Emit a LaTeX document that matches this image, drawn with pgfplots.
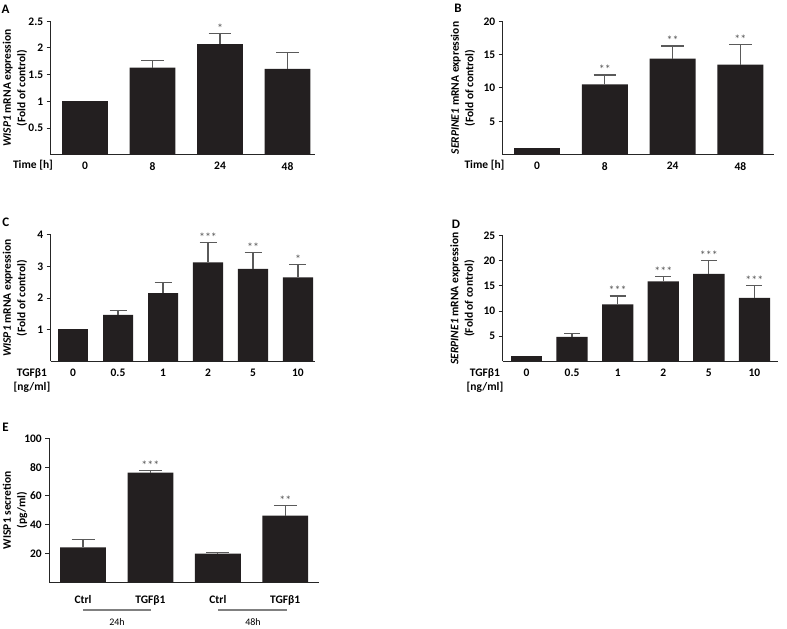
\documentclass[border=0pt]{standalone}
\usepackage{fontspec}
\setmainfont{Carlito}
\usepackage{pgfplots}
\usepackage{pgfplotstable}
\pgfplotsset{compat=1.18}
\definecolor{barc}{HTML}{231F20}
\definecolor{errc}{HTML}{5A5A5A}
\definecolor{starc}{HTML}{555555}
\pgfplotsset{
  panel/.style={
    scale only axis, anchor=south west, clip=false,
    axis x line*=bottom, axis y line*=left,
    axis line style={line width=1.2pt, black!85, -},
    ymin=0,
    ytick align=outside, major tick length=4pt,
    ytick style={line width=1pt, black!85},
    xtick style={draw=none},
    /pgf/number format/assume math mode=true,
    ticklabel style={font=\bfseries\fontsize{11.5}{14}\selectfont},
    label style={font=\bfseries\fontsize{11.5}{14.5}\selectfont, align=center},
    ylabel style={anchor=center},
    ybar, bar shift=0pt,
  },
  bars/.style={fill=barc, draw=none, bar shift=0pt,
    error bars/.cd, y dir=plus, y explicit, error mark=|,
    error bar style={errc, line width=1.2pt},
    error mark options={errc, line width=1.2pt, mark size=#1}},
  plainbars/.style={fill=barc, draw=none, bar shift=0pt},
}
\newcommand{\stars}[3]{\node[anchor=base, text=starc, font=\fontsize{12}{14}\selectfont, inner sep=0pt, yshift=1pt] at (axis cs:#1,#2) {#3};}

\pgfplotstableread{
x y e
1 1.63 0.14
2 2.07 0.20
3 1.61 0.31
}\dataA
\pgfplotstableread{
x y e
1 10.56 1.39
2 14.40 1.90
3 13.50 3.05
}\dataB
\pgfplotstableread{
x y e
1 1.47 0.14
2 2.16 0.34
3 3.13 0.62
4 2.93 0.51
5 2.66 0.40
}\dataC
\pgfplotstableread{
x y e
1 4.84 0.73
2 11.35 1.65
3 15.90 0.90
4 17.40 2.70
5 12.60 2.45
}\dataD
\pgfplotstableread{
x y e
0 24.3 5.6
1 76.1 1.7
2 19.9 0.7
3 46.3 6.9
}\dataE

\begin{document}
\begin{tikzpicture}[x=1pt,y=1pt]
\path[use as bounding box] (0,0) rectangle (787,629);

% Panel A
\begin{axis}[panel, at={(50.7pt,474.3pt)}, width=264.3pt, height=133.4pt,
  xmin=-0.508, xmax=3.407, ymax=2.5, bar width=0.68,
  ytick={0.5,1,1.5,2,2.5}, xtick={0,1,2,3}, xticklabels={0,8,24,48},
  ylabel={\textit{WISP1} mRNA expression\\(Fold of control)},
  ylabel style={at={(axis description cs:-0.135,0.5)}}]
\addplot[plainbars] coordinates {(0,1.0)};
\addplot[bars=11.3pt] table[x=x,y=y,y error=e] {\dataA};
\stars{2}{2.27}{*}
\end{axis}

% Panel B
\begin{axis}[panel, at={(502.7pt,474.3pt)}, width=271.6pt, height=133.4pt,
  xmin=-0.506, xmax=3.5, ymax=20, bar width=0.679,
  ytick={5,10,15,20}, xtick={0,1,2,3}, xticklabels={0,8,24,48},
  ylabel={\textit{SERPINE1} mRNA expression\\(Fold of control)},
  ylabel style={at={(axis description cs:-0.146,0.5)}}]
\addplot[plainbars] coordinates {(0,1.05)};
\addplot[bars=11.3pt] table[x=x,y=y,y error=e] {\dataB};
\stars{1}{11.95}{**}
\stars{2}{16.30}{**}
\stars{3}{16.55}{**}
\end{axis}

% Panel C
\begin{axis}[panel, at={(50.7pt,267.7pt)}, width=264.3pt, height=126.3pt,
  xmin=-0.496, xmax=5.378, ymax=4, bar width=0.667,
  ytick={1,2,3,4}, xtick={0,1,2,3,4,5}, xticklabels={0,0.5,1,2,5,10},
  ylabel={\textit{WISP1} mRNA expression\\(Fold of control)},
  ylabel style={at={(axis description cs:-0.135,0.5)}}]
\addplot[plainbars] coordinates {(0,1.01)};
\addplot[bars=8.5pt] table[x=x,y=y,y error=e] {\dataC};
\stars{3}{3.75}{***}
\stars{4}{3.44}{**}
\stars{5}{3.06}{*}
\end{axis}

% Panel D
\begin{axis}[panel, at={(502.7pt,267.7pt)}, width=275pt, height=125.6pt,
  xmin=-0.522, xmax=5.51, ymax=25, bar width=0.686,
  ytick={5,10,15,20,25}, xtick={0,1,2,3,4,5}, xticklabels={0,0.5,1,2,5,10},
  ylabel={\textit{SERPINE1} mRNA expression\\(Fold of control)},
  ylabel style={at={(axis description cs:-0.146,0.5)}}]
\addplot[plainbars] coordinates {(0,1.05)};
\addplot[bars=8pt] table[x=x,y=y,y error=e] {\dataD};
\stars{2}{13.0}{***}
\stars{3}{16.8}{***}
\stars{4}{20.1}{***}
\stars{5}{15.05}{***}
\end{axis}

% Panel E
\begin{axis}[panel, at={(49.3pt,46.7pt)}, width=269.7pt, height=144pt,
  xmin=-0.5, xmax=3.5, ymax=100, bar width=0.68,
  ytick={20,40,60,80,100}, xtick={0,1,2,3}, xticklabels={Ctrl,TGFβ1,Ctrl,TGFβ1},
  xticklabel style={yshift=-6pt},
  ylabel={WISP1 secretion\\(pg/ml)},
  ylabel style={at={(axis description cs:-0.127,0.5)}}]
\addplot[bars=11.5pt] table[x=x,y=y,y error=e] {\dataE};
\stars{1}{77.8}{***}
\stars{3}{53.2}{**}
\end{axis}

% panel letters
\begin{scope}[every node/.style={font=\bfseries\fontsize{13}{15}\selectfont, inner sep=0pt}]
\node at (5.5,620) {A};
\node at (458,620.5) {B};
\node at (5.8,407) {C};
\node at (456,405) {D};
\node at (5.5,202) {E};
\end{scope}
% axis side labels
\begin{scope}[every node/.style={font=\bfseries\fontsize{11.5}{14}\selectfont, inner sep=0pt, align=center}]
\node at (33,464) {Time [h]};
\node at (484.5,464) {Time [h]};
\node at (32,248) {TGFβ1\\{}[ng/ml]};
\node at (485,248) {TGFβ1\\{}[ng/ml]};
\end{scope}
% group lines in E
\draw[gray, line width=1.5pt] (83,19) -- (151,19);
\draw[gray, line width=1.5pt] (218,19) -- (287,19);
\node[font=\fontsize{10}{12}\selectfont, inner sep=0pt] at (117,7) {24h};
\node[font=\fontsize{10}{12}\selectfont, inner sep=0pt] at (253,7) {48h};
\end{tikzpicture}
\end{document}
